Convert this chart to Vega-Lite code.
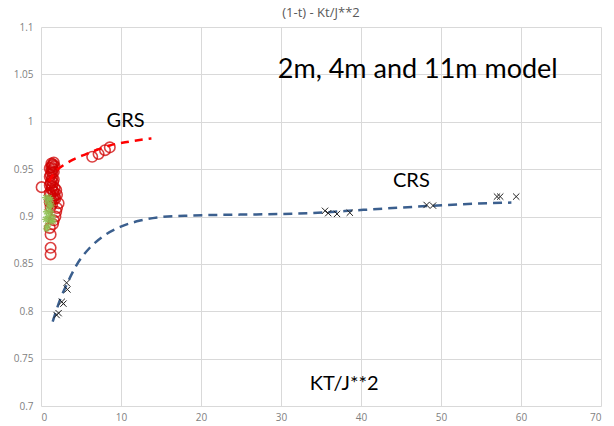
{
  "$schema": "https://vega.github.io/schema/vega-lite/v6.json",
  "width": 560,
  "height": 379,
  "autosize": "none",
  "padding": {"left": 41, "top": 27, "right": 13, "bottom": 20},
  "background": "white",
  "title": {"text": "(1-t) - Kt/J**2", "fontSize": 13, "font": "Open Sans", "fontWeight": "normal", "color": "#595959", "offset": 2},
  "config": {"view": {"stroke": null}, "axis": {"labelFont": "Open Sans", "labelFontSize": 10, "labelColor": "#7f7f7f", "gridColor": "#d9d9d9", "gridWidth": 1, "domain": false, "ticks": false, "title": null}},
  "datasets": {
    "grsCircles": [
      {"x": 0.08, "y": 0.931},
      {"x": 1.3, "y": 0.956}, {"x": 1.4, "y": 0.954}, {"x": 1.3, "y": 0.952}, {"x": 1.5, "y": 0.95}, {"x": 1.3, "y": 0.948},
      {"x": 1.4, "y": 0.946}, {"x": 1.2, "y": 0.944}, {"x": 1.4, "y": 0.941}, {"x": 1.3, "y": 0.938}, {"x": 1.2, "y": 0.935},
      {"x": 1.4, "y": 0.932}, {"x": 1.3, "y": 0.929}, {"x": 1.6, "y": 0.926}, {"x": 1.2, "y": 0.923}, {"x": 1.5, "y": 0.92},
      {"x": 1.3, "y": 0.917}, {"x": 1.4, "y": 0.913}, {"x": 1.2, "y": 0.91},
      {"x": 1.6, "y": 0.957}, {"x": 1.5, "y": 0.955}, {"x": 1.7, "y": 0.953}, {"x": 1.1, "y": 0.951}, {"x": 1.6, "y": 0.947},
      {"x": 1.1, "y": 0.942}, {"x": 1.6, "y": 0.939}, {"x": 1.5, "y": 0.936}, {"x": 1.1, "y": 0.933}, {"x": 1.7, "y": 0.93},
      {"x": 1.5, "y": 0.927}, {"x": 1.1, "y": 0.925}, {"x": 1.7, "y": 0.922}, {"x": 1.6, "y": 0.918}, {"x": 1.1, "y": 0.915},
      {"x": 1.9, "y": 0.928}, {"x": 2.0, "y": 0.923}, {"x": 1.8, "y": 0.919}, {"x": 2.2, "y": 0.914}, {"x": 2.0, "y": 0.909},
      {"x": 1.9, "y": 0.905}, {"x": 1.8, "y": 0.9}, {"x": 1.6, "y": 0.896}, {"x": 1.5, "y": 0.892},
      {"x": 1.1, "y": 0.888}, {"x": 1.2, "y": 0.881}, {"x": 1.2, "y": 0.867}, {"x": 1.2, "y": 0.86},
      {"x": 6.4, "y": 0.963}, {"x": 7.2, "y": 0.966}, {"x": 8.0, "y": 0.97}, {"x": 8.6, "y": 0.973}
    ],
    "green": [
      {"x": 0.6, "y": 0.92}, {"x": 0.8, "y": 0.915}, {"x": 1.0, "y": 0.91}, {"x": 0.7, "y": 0.905}, {"x": 1.2, "y": 0.905},
      {"x": 0.9, "y": 0.9}, {"x": 1.4, "y": 0.9}, {"x": 0.6, "y": 0.897}, {"x": 1.1, "y": 0.895}, {"x": 0.8, "y": 0.89},
      {"x": 1.3, "y": 0.912}, {"x": 1.0, "y": 0.92}, {"x": 0.7, "y": 0.887}, {"x": 1.5, "y": 0.895}, {"x": 1.2, "y": 0.918}
    ],
    "crsPoints": [
      {"x": 1.95, "y": 0.796}, {"x": 2.2, "y": 0.798}, {"x": 2.6, "y": 0.81}, {"x": 2.8, "y": 0.808},
      {"x": 3.2, "y": 0.83}, {"x": 3.3, "y": 0.823},
      {"x": 35.5, "y": 0.906}, {"x": 35.9, "y": 0.9035}, {"x": 37.0, "y": 0.9027}, {"x": 38.6, "y": 0.904},
      {"x": 48.2, "y": 0.9122}, {"x": 49.0, "y": 0.9115},
      {"x": 57.0, "y": 0.921}, {"x": 57.4, "y": 0.921}, {"x": 59.4, "y": 0.921}
    ],
    "grsFit": [
      {"x": 1.0, "y": 0.937}, {"x": 1.75, "y": 0.947}, {"x": 2.8, "y": 0.954}, {"x": 4.0, "y": 0.96},
      {"x": 6.0, "y": 0.967}, {"x": 8.6, "y": 0.975}, {"x": 11.0, "y": 0.979}, {"x": 13.8, "y": 0.9825}
    ],
    "crsFit": [
      {"x": 1.46, "y": 0.789}, {"x": 2.375, "y": 0.812}, {"x": 3.2, "y": 0.828}, {"x": 4.46, "y": 0.849},
      {"x": 6.1, "y": 0.867}, {"x": 7.75, "y": 0.879}, {"x": 9.9, "y": 0.889}, {"x": 12.4, "y": 0.8957},
      {"x": 15.25, "y": 0.8996}, {"x": 18.6, "y": 0.901}, {"x": 22.4, "y": 0.9017}, {"x": 24.9, "y": 0.902},
      {"x": 33.6, "y": 0.9035}, {"x": 40.3, "y": 0.907}, {"x": 47.0, "y": 0.9104}, {"x": 52.8, "y": 0.913},
      {"x": 58.8, "y": 0.9147}
    ],
    "labels": [
      {"x": 29.6, "y": 1.0462, "text": "2m, 4m and 11m model", "size": 27},
      {"x": 8.2, "y": 0.9945, "text": "GRS", "size": 20},
      {"x": 44.0, "y": 0.9312, "text": "CRS", "size": 20},
      {"x": 33.6, "y": 0.717, "text": "KT/J**2", "size": 20}
    ]
  },
  "encoding": {
    "x": {"field": "x", "type": "quantitative", "scale": {"domain": [0, 70], "nice": false}, "axis": {"values": [0, 10, 20, 30, 40, 50, 60, 70], "labelPadding": 6}},
    "y": {"field": "y", "type": "quantitative", "scale": {"domain": [0.7, 1.1], "nice": false, "zero": false}, "axis": {"values": [0.7, 0.75, 0.8, 0.85, 0.9, 0.95, 1.0, 1.05, 1.1], "format": "~g", "labelPadding": 8}}
  },
  "layer": [
    {"data": {"name": "grsCircles"}, "mark": {"type": "point", "shape": "circle", "size": 110, "filled": false, "stroke": "#d00000", "strokeWidth": 1.6, "opacity": 0.75}},
    {"data": {"name": "green"}, "mark": {"type": "point", "shape": "M-1,0L1,0M0,-1L0,1M-0.7,-0.7L0.7,0.7M-0.7,0.7L0.7,-0.7", "size": 55, "filled": false, "stroke": "#8cbf50", "strokeWidth": 1.3, "opacity": 0.85}},
    {"data": {"name": "grsFit"}, "mark": {"type": "line", "interpolate": "monotone", "stroke": "#ff0000", "strokeWidth": 2.5, "strokeDash": [8, 6]}},
    {"data": {"name": "crsFit"}, "mark": {"type": "line", "interpolate": "monotone", "stroke": "#3b5f8e", "strokeWidth": 2.5, "strokeDash": [9, 6]}},
    {"data": {"name": "crsPoints"}, "mark": {"type": "point", "shape": "M-1,-1L1,1M-1,1L1,-1", "size": 40, "filled": false, "stroke": "#222222", "strokeWidth": 1, "opacity": 1}},
    {"data": {"name": "labels"}, "mark": {"type": "text", "align": "left", "baseline": "alphabetic", "font": "Lato", "color": "#000000"}, "encoding": {"text": {"field": "text"}, "size": {"field": "size", "type": "quantitative", "scale": null}}}
  ]
}
